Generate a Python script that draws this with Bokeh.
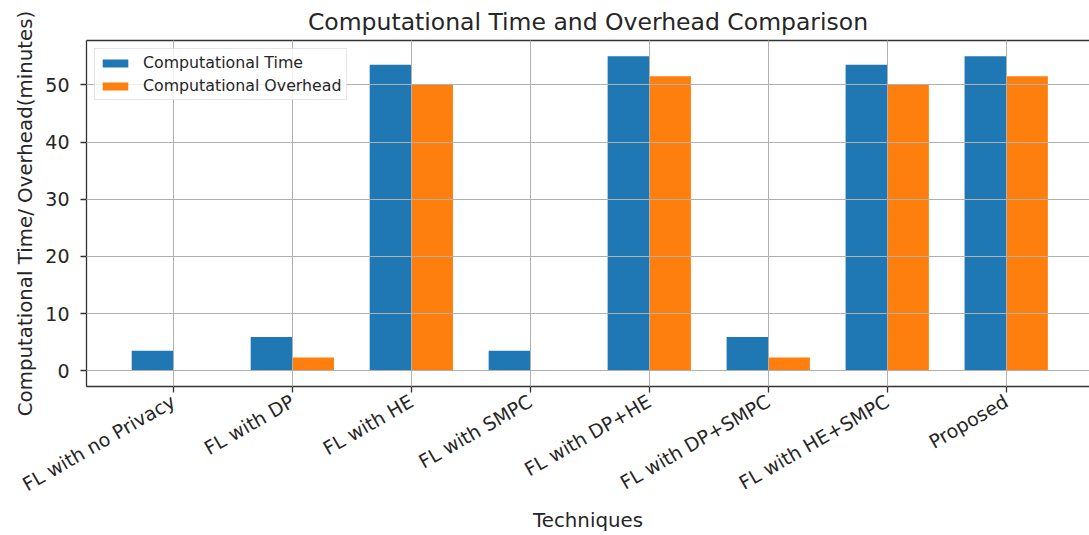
import math
from bokeh.plotting import figure
from bokeh.models import (Range1d, FixedTicker, LinearAxis, ColumnDataSource,
                          Legend)
from bokeh.transform import dodge
from bokeh.embed import file_html
from bokeh.resources import INLINE

techniques = ["FL with no Privacy", "FL with DP", "FL with HE", "FL with SMPC",
              "FL with DP+HE", "FL with DP+SMPC", "FL with HE+SMPC", "Proposed"]
comp_time = [3.5, 5.9, 53.5, 3.5, 55.0, 5.9, 53.5, 55.0]
comp_overhead = [0.0, 2.3, 50.0, 0.0, 51.5, 2.3, 50.0, 51.5]
y_ticks = [0, 10, 20, 30, 40, 50]

FONT = "DejaVu Sans"
TXT = "#262626"
BLUE = "#1f77b4"
ORANGE = "#ff7f0e"
BAR_W = 0.35

src = ColumnDataSource(dict(x=list(range(len(techniques))),
                            t=comp_time, o=comp_overhead))

p = figure(width=1089, height=535, output_backend="svg", toolbar_location=None,
           x_range=Range1d(-0.73, 7.70), y_range=Range1d(-2.75, 57.75),
           min_border_left=86, min_border_right=0, min_border_top=40,
           min_border_bottom=149,
           title="Computational Time and Overhead Comparison")
p.outline_line_color = None
p.background_fill_color = "white"
p.border_fill_color = "white"

p.title.text_font = FONT
p.title.text_font_size = "23.5px"
p.title.text_font_style = "normal"
p.title.text_color = TXT
p.title.align = "center"
p.title.standoff = 9

r1 = p.vbar(x=dodge("x", -BAR_W / 2), top="t", width=BAR_W, bottom=0,
            source=src, fill_color=BLUE, line_color=None)
r2 = p.vbar(x=dodge("x", BAR_W / 2), top="o", width=BAR_W, bottom=0,
            source=src, fill_color=ORANGE, line_color=None)

# axes
xa = p.xaxis[0]
xa.ticker = FixedTicker(ticks=list(range(len(techniques))))
xa.major_label_overrides = {i: n for i, n in enumerate(techniques)}
xa.major_label_orientation = math.pi / 6
xa.axis_label = "Techniques"
ya = p.yaxis[0]
ya.ticker = FixedTicker(ticks=y_ticks)
ya.axis_label = "Computational Time/ Overhead(minutes)"

for ax in (xa, ya):
    ax.minor_tick_line_color = None
    ax.major_tick_in = 0
    ax.major_tick_out = 6
    ax.major_tick_line_color = "#333333"
    ax.major_tick_line_width = 1.3
    ax.axis_line_color = "#333333"
    ax.axis_line_width = 1.3
    ax.major_label_text_font = FONT
    ax.major_label_text_font_size = "19px"
    ax.major_label_text_color = TXT
    ax.axis_label_text_font = FONT
    ax.axis_label_text_font_size = "19.8px"
    ax.axis_label_text_font_style = "normal"
    ax.axis_label_text_color = TXT
ya.major_label_standoff = 11
xa.major_label_standoff = 7
ya.axis_label_standoff = 5
xa.axis_label_standoff = 1

top_axis = LinearAxis(ticker=FixedTicker(ticks=[]), axis_line_color="#333333",
                      axis_line_width=1.3, major_tick_line_color=None,
                      major_tick_in=0, major_tick_out=0,
                      minor_tick_in=0, minor_tick_out=0,
                      minor_tick_line_color=None, major_label_text_font_size="0px",
                      major_label_standoff=0, axis_label_standoff=0)
p.add_layout(top_axis, "above")

for g in (p.xgrid[0], p.ygrid[0]):
    g.grid_line_color = "#b0b0b0"
    g.grid_line_width = 1
    g.level = "guide"
p.xgrid[0].ticker = FixedTicker(ticks=list(range(len(techniques))))
p.ygrid[0].ticker = FixedTicker(ticks=y_ticks)

legend = Legend(items=[("Computational Time", [r1]),
                       ("Computational Overhead", [r2])],
                location="top_left")
legend.label_text_font = FONT
legend.label_text_font_size = "15.8px"
legend.label_text_color = TXT
legend.glyph_width = 32
legend.glyph_height = 10
legend.label_height = 16
legend.spacing = 4
legend.padding = 4
legend.margin = 8
legend.label_standoff = 12
legend.border_line_color = "#cccccc"
legend.border_line_width = 1
legend.background_fill_alpha = 0.8
p.add_layout(legend)

open("out.html", "w").write(file_html(p, INLINE))
